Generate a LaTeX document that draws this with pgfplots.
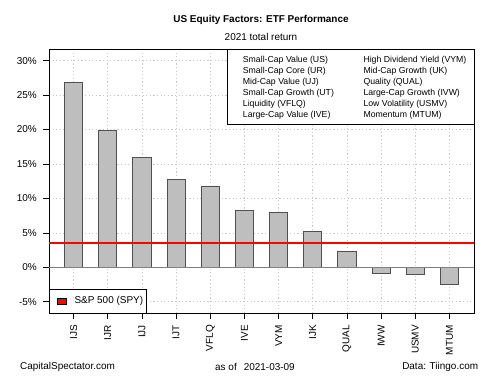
\documentclass[border=0pt]{standalone}
\usepackage{pgfplots}
\pgfplotsset{compat=1.18}
\usepackage{fontspec}
\setmainfont{Liberation Sans}
\definecolor{barfill}{HTML}{BEBEBE}
\definecolor{bardraw}{HTML}{505050}
\definecolor{gridc}{HTML}{C8C8C8}
\begin{document}
\begin{tikzpicture}[x=1bp,y=1bp]
\path[use as bounding box] (0,0) rectangle (500,375);
\begin{axis}[
  at={(49bp,62bp)}, anchor=south west,
  scale only axis, width=425bp, height=264bp,
  xmin=-0.72, xmax=11.72, ymin=-6.65, ymax=31.7,
  xtick={0,1,2,3,4,5,6,7,8,9,10,11},
  xticklabels={IJS,IJR,IJJ,IJT,VFLQ,IVE,VYM,IJK,QUAL,IWW,USMV,MTUM},
  ytick={-5,0,5,10,15,20,25,30},
  yticklabels={{-5\%},{0\%},{5\%},{10\%},{15\%},{20\%},{25\%},{30\%}},
  tick align=outside,
  major tick length=6bp,
  tick style={black, line width=0.6bp},
  xtick pos=bottom, ytick pos=left,
  xticklabel style={font=\fontsize{10}{12}\selectfont, rotate=90, anchor=east, inner sep=0pt, xshift=-6bp},
  yticklabel style={font=\fontsize{10}{12}\selectfont, anchor=east, inner sep=0pt, xshift=-6bp},
  grid=major,
  major grid style={gridc, line width=0.6bp, dash pattern=on 1.2bp off 2.4bp},
  axis line style={black, line width=0.8bp},
  clip=false,
]
\addplot[ybar, bar width=0.53, bar shift=0pt, fill=barfill, draw=bardraw, line width=0.9bp]
 coordinates {(0,26.8) (1,19.9) (2,15.9) (3,12.8) (4,11.8) (5,8.3) (6,7.9) (7,5.2) (8,2.3) (9,-0.9) (10,-1.0) (11,-2.5)};
\addplot[gray, line width=1.2bp] coordinates {(-0.72,0) (11.72,0)};
\addplot[red, line width=2bp] coordinates {(-0.72,3.55) (11.72,3.55)};
\end{axis}
% top-right legend
\draw[black, line width=0.8bp, fill=white] (227.3,251) rectangle (474,326);
\begin{scope}[every node/.style={anchor=west, inner sep=0pt, font=\fontsize{8.75}{10}\selectfont}]
\node at (242.7,314.3) {Small-Cap Value (US)};
\node at (242.7,303.3) {Small-Cap Core (UR)};
\node at (242.7,292.3) {Mid-Cap Value (UJ)};
\node at (242.7,281.3) {Small-Cap Growth (UT)};
\node at (242.7,270.3) {Liquidity (VFLQ)};
\node at (242.7,259.3) {Large-Cap Value (IVE)};
\node at (363.3,314.3) {High Dividend Yield (VYM)};
\node at (363.3,303.3) {Mid-Cap Growth (UK)};
\node at (363.3,292.3) {Quality (QUAL)};
\node at (363.3,281.3) {Large-Cap Growth (IVW)};
\node at (363.3,270.3) {Low Volatility (USMV)};
\node at (363.3,259.3) {Momentum (MTUM)};
\end{scope}
% bottom-left legend
\draw[black, line width=0.8bp, fill=white] (49,62) rectangle (146.7,85.7);
\draw[black, line width=0.6bp, fill=red] (57.3,70.5) rectangle (66,76.8);
\node[anchor=west, inner sep=0pt, font=\fontsize{10}{12}\selectfont] at (74.3,73.7) {S\&P 500 (SPY)};
% titles
\node[font=\fontsize{10}{12}\selectfont\bfseries] at (261,355) {US Equity Factors: ETF Performance};
\node[font=\fontsize{10}{12}\selectfont] at (261,338) {2021 total return};
% footer
\node[anchor=west, inner sep=0pt, font=\fontsize{10}{12}\selectfont] at (20,8.3) {CapitalSpectator.com};
\node[anchor=west, inner sep=0pt, font=\fontsize{10}{12}\selectfont] at (215,8.3) {as of\hspace{7bp}2021-03-09};
\node[anchor=east, inner sep=0pt, font=\fontsize{10}{12}\selectfont] at (478.3,8.3) {Data: Tiingo.com};
\end{tikzpicture}
\end{document}
